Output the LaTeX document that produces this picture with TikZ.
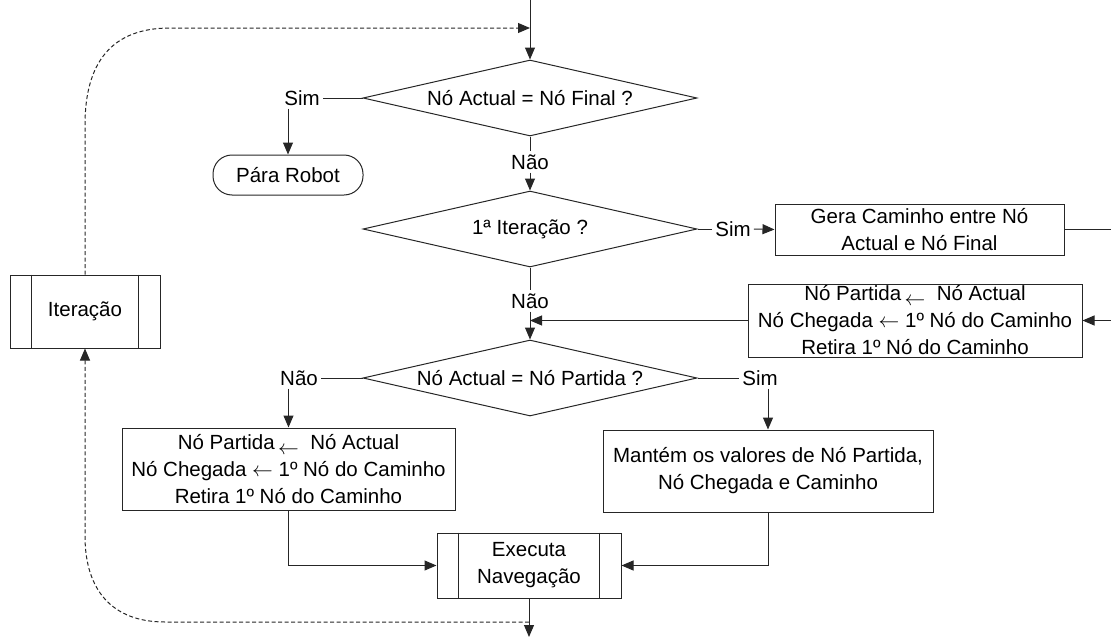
\documentclass[tikz,border=0pt]{standalone}
\usepackage{fontspec}
\setmainfont{Liberation Sans}
\usetikzlibrary{shapes.geometric,arrows.meta}
\begin{document}
\begin{tikzpicture}[x=1pt,y=-1pt,
  every node/.style={font=\fontsize{20.5}{27}\selectfont},
  line/.style={draw=black!85, line width=1pt},
  arr/.style={line, -{Triangle[length=12pt,width=10pt]}},
  dsh/.style={line, dash pattern=on 4pt off 2.5pt},
  darr/.style={dsh, -{Triangle[length=12pt,width=10pt]}},
  dec/.style={diamond, draw=black!85, line width=1pt, shape aspect=4.4, minimum width=334pt, minimum height=76pt, inner sep=0pt},
  box/.style={rectangle, draw=black!85, line width=1pt, align=center, inner sep=0pt},
  lab/.style={inner sep=3pt},
]
\useasboundingbox (0,0) rectangle (1111,637);

% nodes
\node[dec] (d1) at (530,98) {Nó Actual = Nó Final ?};
\node[lab] (s1) at (302,98) {Sim};
\node[box, rounded corners=19pt, minimum width=150pt, minimum height=40pt] (stop) at (288,175) {Pára Robot};
\node[lab] (n1) at (530,162) {Não};
\node[dec] (d2) at (530,229) {1ª Iteração ?};
\node[lab] (s2) at (733,229) {Sim};
\node[box, minimum width=289pt, minimum height=51pt] (gera) at (919.5,229.5) {Gera Caminho entre Nó\\Actual e Nó Final};
\node[box, minimum width=334pt, minimum height=73pt] (b3) at (915,320.5) {Nó Partida\,\raisebox{-5pt}{$\leftarrow$}\ \ Nó Actual\\Nó Chegada $\leftarrow$ 1º Nó do Caminho\\Retira 1º Nó do Caminho};
\node[lab] (n2) at (530,301) {Não};
\node[dec] (d3) at (530,378) {Nó Actual = Nó Partida ?};
\node[lab] (n3) at (299,378) {Não};
\node[lab] (s3) at (760,378) {Sim};
\node[box, minimum width=333pt, minimum height=82pt] (b4) at (288.5,469) {Nó Partida\,\raisebox{-5pt}{$\leftarrow$}\ \ Nó Actual\\Nó Chegada $\leftarrow$ 1º Nó do Caminho\\Retira 1º Nó do Caminho};
\node[box, minimum width=330pt, minimum height=82pt] (b5) at (768,471) {Mantém os valores de Nó Partida,\\Nó Chegada e Caminho};
\node[box, minimum width=184pt, minimum height=65pt] (ex) at (529,565.5) {Executa\\Navegação};
\node[box, minimum width=150pt, minimum height=73pt] (it) at (85,311.5) {Iteração};
\draw[line] ([xshift=22pt]ex.north west) -- ([xshift=22pt]ex.south west);
\draw[line] ([xshift=-22pt]ex.north east) -- ([xshift=-22pt]ex.south east);
\draw[line] ([xshift=22pt]it.north west) -- ([xshift=22pt]it.south west);
\draw[line] ([xshift=-22pt]it.north east) -- ([xshift=-22pt]it.south east);

% free ends
\coordinate (top) at (530,0);
\coordinate (dt) at (530,28);
\coordinate (ge) at (1111,229.5);
\coordinate (bi) at (1111,320.5);
\coordinate (j) at (530,320.5);
\coordinate (dl) at (529,622);
\coordinate (bot) at (529,637);

% connectors
\draw[arr] (top) -- (d1.north);
\draw[line] (d1.west) -- (s1.east);
\draw[arr] (stop.north |- s1.south) -- (stop.north);
\draw[line] (d1.south) -- (n1.north);
\draw[arr] (n1.south) -- (d2.north);
\draw[line] (d2.east) -- (s2.west);
\draw[arr] (s2.east) -- (gera.west);
\draw[line] (gera.east) -- (ge);
\draw[arr] (bi) -- (b3.east);
\draw[arr] (b3.west) -- (j);
\draw[line] (d2.south) -- (n2.north);
\draw[arr] (n2.south) -- (d3.north);
\draw[line] (d3.west) -- (n3.east);
\draw[line] (d3.east) -- (s3.west);
\draw[arr] (b4.north |- n3.south) -- (b4.north);
\draw[arr] (b5.north |- s3.south) -- (b5.north);
\draw[arr] (b4.south) |- (ex.west);
\draw[arr] (b5.south) |- (ex.east);
\draw[arr] (ex.south) -- (bot);
\draw[darr] (dl) -- (165,622) .. controls (112,622) and (85,590) .. (85,536) -- (it.south);
\draw[darr] (it.north) -- (85,125) .. controls (85,62) and (112,28) .. (170,28) -- (dt);
\end{tikzpicture}
\end{document}
